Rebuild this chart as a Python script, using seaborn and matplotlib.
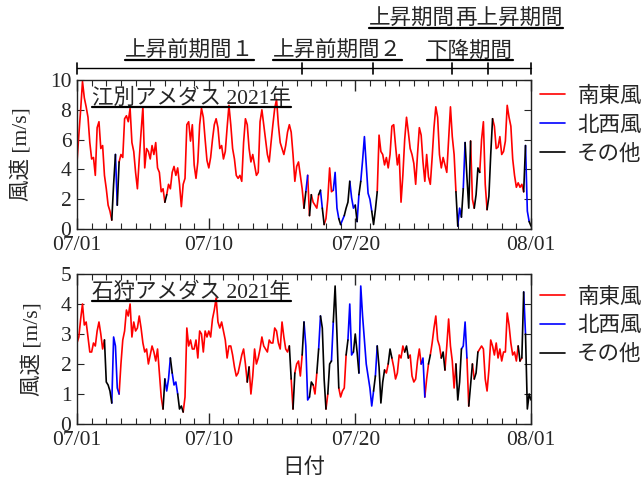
import numpy as np
import pandas as pd
import matplotlib
matplotlib.use("Agg")
import matplotlib.pyplot as plt
import matplotlib.dates as mdates
from matplotlib.lines import Line2D
import seaborn as sns

# ---------------- data (3-hourly, 2021-07-01 00:00 .. 2021-08-01 00:00) ----------------
start_time = "2021-07-01 00:00"
step_hours = 3

ebetsu_speed = [
    4.5, 6.3, 8.0, 9.9, 8.8, 8.2, 7.5, 5.8,
    4.7, 4.8, 3.6, 6.8, 7.2, 5.4, 5.6, 3.6,
    2.7, 1.6, 1.2, 0.6, 3.0, 5.0, 1.6, 4.5,
    5.0, 4.8, 7.4, 7.6, 7.2, 8.1, 5.8, 5.2,
    3.8, 2.7, 4.7, 6.5, 8.2, 4.1, 5.4, 5.2,
    4.7, 5.6, 5.0, 5.8, 4.1, 3.8, 2.5, 2.7,
    1.8, 2.3, 3.0, 2.7, 3.8, 4.2, 3.6, 4.1,
    3.0, 1.5, 3.0, 3.4, 7.0, 7.2, 5.9, 7.0,
    4.3, 3.4, 4.5, 7.0, 8.1, 7.5, 6.0, 4.6,
    4.1, 4.8, 6.0, 7.0, 7.4, 6.8, 5.4, 5.6,
    4.7, 5.2, 6.8, 8.3, 7.0, 5.4, 4.7, 3.6,
    3.4, 3.6, 3.2, 5.8, 7.4, 7.0, 5.4, 4.5,
    5.0, 4.3, 3.6, 3.8, 7.2, 8.0, 7.0, 6.0,
    5.0, 4.5, 5.8, 7.0, 8.1, 8.7, 7.0, 5.8,
    5.4, 5.0, 5.6, 6.5, 7.0, 6.5, 5.0, 3.2,
    4.2, 4.5, 3.6, 2.7, 1.4, 2.5, 3.6, 0.9,
    2.3, 1.8, 1.6, 1.4, 2.3, 2.6, 1.4, 0.3,
    0.7, 2.0, 4.1, 2.5, 2.6, 3.8, 1.4, 0.7,
    0.3, 0.6, 0.9, 1.4, 1.8, 3.2, 2.1, 1.4,
    1.6, 0.5, 2.3, 3.2, 4.6, 6.2, 4.3, 2.4,
    2.0, 1.2, 0.3, 1.3, 2.5, 6.3, 5.2, 5.0,
    4.3, 4.8, 4.1, 5.0, 6.9, 7.0, 5.6, 4.3,
    5.0, 1.8, 3.6, 6.0, 7.5, 6.5, 5.4, 5.0,
    4.4, 3.0, 5.0, 6.8, 6.3, 4.5, 3.2, 5.0,
    3.5, 3.0, 4.8, 6.8, 8.2, 7.5, 5.0, 4.1,
    4.8, 4.3, 3.8, 6.0, 8.2, 6.2, 5.0, 2.5,
    0.2, 1.4, 0.8, 2.7, 5.8, 3.5, 1.4, 5.9,
    2.0, 1.4, 2.3, 4.1, 3.8, 6.0, 7.2, 3.0,
    1.3, 2.2, 5.0, 7.4, 6.9, 5.4, 5.5, 6.2,
    5.0, 5.2, 5.9, 8.3, 7.5, 6.9, 4.7, 3.6,
    2.8, 3.1, 2.8, 3.0, 2.5, 5.6, 1.2, 0.5,
    0.2,
]
# S = 南東風, N = 北西風, O = その他 (direction at the start of each step)
ebetsu_dir = (
    "SSSSSSSS" "SSSSSSSS" "SSSOONOS" "SSSSSSSS" "SSSSSSSS" "SSSSSSSS"
    "OSSSSSSS" "SSSSSSSS" "SSSSSSSS" "SSSSSSSS" "SSSSSSSS" "SSSSSSSS"
    "SSSSSSSS" "SSSSSSSS" "SSSSSSSS" "SSSSONSO" "SSSSONOS" "SSSSNNNO"
    "NNOOONNN" "ONONNNNN" "NOOOSSSS" "SSSSSSSS" "SSSSSSSS" "SSSSSSSS"
    "SSSSSSSS" "SSSSSSSO" "NNONOOOS" "SOOOSSSS" "OOOSSSSS" "SSSSSSSS"
    "SSSSONNO" "O"
)

ishikari_speed = [
    2.7, 2.9, 3.5, 4.0, 3.3, 3.4, 2.9, 2.4,
    2.4, 2.7, 2.6, 3.1, 3.4, 3.0, 2.5, 2.8,
    1.4, 1.3, 1.1, 0.7, 2.9, 2.6, 1.2, 1.0,
    2.0, 2.8, 3.1, 3.8, 3.6, 4.0, 2.9, 3.4,
    3.1, 3.2, 3.6, 3.2, 2.7, 2.4, 2.5, 2.0,
    2.3, 2.6, 2.4, 2.1, 2.5, 1.7, 0.9, 0.5,
    1.5, 1.1, 1.5, 2.2, 1.7, 1.3, 1.4, 1.0,
    0.5, 0.6, 0.4, 0.9, 3.2, 2.6, 2.8, 2.5,
    2.5, 2.8, 2.2, 3.1, 3.0, 2.4, 3.1, 2.9,
    3.1, 2.9, 3.5, 3.8, 4.2, 3.4, 3.2, 3.4,
    3.1, 2.8, 2.2, 2.6, 2.6, 2.3, 1.9, 1.6,
    1.7, 2.0, 2.3, 2.5, 2.0, 1.4, 1.9, 1.0,
    1.6, 2.5, 2.0, 2.2, 2.5, 2.9, 2.6, 2.5,
    2.4, 2.8, 2.7, 2.7, 3.2, 3.1, 2.7, 2.5,
    3.4, 2.9, 2.5, 2.4, 2.6, 1.5, 0.5, 1.7,
    2.0, 2.1, 1.6, 2.3, 3.4, 2.6, 0.8, 0.9,
    1.4, 1.3, 1.0, 1.7, 2.5, 3.6, 3.2, 1.5,
    0.5, 1.0, 2.0, 2.1, 3.4, 4.6, 3.0, 1.2,
    0.9, 1.1, 1.2, 2.3, 2.8, 4.0, 2.3, 2.4,
    3.0, 2.4, 1.7, 4.6, 3.6, 2.8, 2.0, 1.6,
    1.2, 0.6, 1.1, 1.6, 2.6, 1.9, 0.7, 1.4,
    1.8, 1.7, 2.0, 2.5, 2.2, 1.9, 1.5, 1.7,
    2.3, 2.2, 2.6, 2.4, 2.6, 2.2, 2.3, 1.6,
    1.4, 1.5, 2.1, 2.5, 2.0, 2.2, 0.9, 1.5,
    2.0, 2.3, 2.7, 3.2, 3.6, 2.8, 2.6, 2.2,
    2.4, 1.8, 2.6, 3.5, 2.6, 2.1, 1.2, 2.0,
    0.8, 1.4, 2.5, 2.6, 3.4, 2.2, 0.6, 1.3,
    2.0, 1.5, 1.7, 2.4, 2.5, 2.6, 2.5, 1.5,
    1.1, 1.8, 2.8, 2.6, 2.3, 2.7, 2.2, 2.5,
    2.1, 2.4, 2.4, 3.7, 3.3, 2.7, 2.3, 2.4,
    2.1, 2.6, 2.1, 2.2, 4.4, 3.0, 0.5, 1.0,
    0.8,
]
ishikari_dir = (
    "SSSSSSSS" "SSSSSSSO" "OOONNNNS" "SSSSSSSS" "SSSSSSSS" "SSSSSSSO"
    "NNNONNNO" "OOSSSSSS" "SSSSSSSS" "SSSSSSSS" "SSSSSSSS" "SSSSSOSS"
    "SSSSSSSS" "SSSSSSSS" "SSSSOSOS" "SSSONNNO" "OSSONOOO" "SOONOOOS"
    "SSSONNNO" "OONNNNNN" "NNONOOOO" "SSOOSSSS" "SSSOOSSS" "SSSSNNSS"
    "OSSSSSSO" "OSSSSSSO" "OONNNSOO" "SOOSSSSS" "SSSSSSSS" "SSSSSSSS"
    "SOSONOOO" "O"
)

dir_names = {"S": "南東風", "N": "北西風", "O": "その他"}
dir_order = ["南東風", "北西風", "その他"]
dir_colors = {"南東風": "#ff0000", "北西風": "#0000ff", "その他": "#000000"}

station_titles = ["江別アメダス 2021年", "石狩アメダス 2021年"]
y_limits = [10, 5]
y_steps = [2, 1]

period_bounds = ["2021-07-01 00:00", "2021-07-16 09:00", "2021-07-21 05:00",
                 "2021-07-26 14:00", "2021-07-29 01:00", "2021-08-01 00:00"]
period_names = ["上昇前期間１", "上昇前期間２", "上昇期間", "下降期間", "再上昇期間"]
period_rows = [0, 0, 1, 0, 1]

x_major_labels = ["2021-07-01", "2021-07-10", "2021-07-20", "2021-08-01"]

# ---------------- styling ----------------
FS = 15.5
sns.set_style("ticks")
plt.rcParams["font.family"] = ["Liberation Serif", "Noto Sans CJK JP"]
plt.rcParams["font.size"] = FS
plt.rcParams["axes.linewidth"] = 1.0
plt.rcParams["xtick.direction"] = "in"
plt.rcParams["ytick.direction"] = "in"


def build_frame(speed, dirs):
    t = pd.date_range(start_time, periods=len(speed), freq=f"{step_hours}h")
    rows = []
    n = len(speed)
    i = 0
    run = 0
    while i < n - 1:
        c = dirs[i]
        j = i
        while j + 1 < n - 1 and dirs[j + 1] == c:
            j += 1
        for k in range(i, j + 2):
            rows.append((t[k], speed[k], dir_names[c], run))
        run += 1
        i = j + 1
    return pd.DataFrame(rows, columns=["time", "speed", "dir", "run"])


fig = plt.figure(figsize=(6.43, 4.86), dpi=100)
W, H = 643, 486
ax_top = fig.add_axes([77 / W, 1 - 229 / H, 454 / W, 149 / H])
ax_bot = fig.add_axes([77 / W, 1 - 424 / H, 454 / W, 150 / H])
axes = [ax_top, ax_bot]

x0 = pd.Timestamp("2021-07-01")
x1 = pd.Timestamp("2021-08-01")

title_y = [0.806, 0.808]
legend_y = [1.013, 0.967]

for ax, speed, dirs, title, ylim, ystep, ty, ly in zip(
        axes, [ebetsu_speed, ishikari_speed], [ebetsu_dir, ishikari_dir],
        station_titles, y_limits, y_steps, title_y, legend_y):
    df = build_frame(speed, dirs)
    sns.lineplot(data=df, x="time", y="speed", hue="dir", units="run",
                 estimator=None, sort=False, palette=dir_colors,
                 hue_order=dir_order, legend=False, linewidth=1.2, ax=ax)
    ax.set_xlim(x0, x1)
    ax.set_ylim(0, ylim)
    ax.set_yticks(np.arange(0, ylim + 0.001, ystep))
    ax.set_xticks([pd.Timestamp(d) for d in x_major_labels])
    ax.xaxis.set_major_formatter(mdates.DateFormatter("%m/%d"))
    ax.xaxis.set_minor_locator(mdates.DayLocator())
    ax.tick_params(axis="both", which="both", direction="in",
                   top=True, right=True, labelsize=FS, pad=4)
    ax.tick_params(axis="x", which="both", pad=5)
    ax.tick_params(axis="x", which="major", length=8, width=1)
    ax.tick_params(axis="x", which="minor", length=4, width=0.8)
    ax.tick_params(axis="y", which="major", length=5, width=0.8)
    ax.set_ylabel("風速 [m/s]", fontsize=FS, labelpad=13)
    ax.set_xlabel("")
    for s in ax.spines.values():
        s.set_color("#222222")
    ax.text(0.033, ty, title, transform=ax.transAxes, fontsize=FS,
            ha="left", va="bottom", gid="title")
    handles = [Line2D([], [], color=dir_colors[d], lw=1.2) for d in dir_order]
    ax.legend(handles, dir_order, loc="upper left", bbox_to_anchor=(1.0, ly),
              frameon=False, fontsize=FS, handlelength=1.2, handletextpad=0.55,
              labelspacing=0.4, borderaxespad=0.0)

ax_bot.set_xlabel("日付", fontsize=FS, labelpad=6)

# period bracket above the top panel
trans = ax_top.get_xaxis_transform()
bx = [mdates.date2num(pd.Timestamp(b)) for b in period_bounds]
ax_top.plot([bx[0], bx[-1]], [1.0805, 1.0805], color="black", lw=1.0,
            transform=trans, clip_on=False)
for b in bx:
    ax_top.plot([b, b], [1.043, 1.114], color="black", lw=1.2,
                transform=trans, clip_on=False)

row_y = [1.122, 1.337]
label_texts = []
for name, row, a, b in zip(period_names, period_rows, bx[:-1], bx[1:]):
    xc = (a + b) / 2
    txt = ax_top.text(xc, row_y[row], name, transform=trans, ha="center",
                      va="bottom", fontsize=FS)
    label_texts.append(txt)

fig.canvas.draw()
renderer = fig.canvas.get_renderer()
inv = fig.transFigure.inverted()


def underline(txt):
    bb = txt.get_window_extent(renderer)
    (fx0, fy0) = inv.transform((bb.x0, bb.y0))
    (fx1, _) = inv.transform((bb.x1, bb.y0))
    fig.add_artist(Line2D([fx0, fx1], [fy0 + 0.004, fy0 + 0.004],
                          color="black", lw=1.6, transform=fig.transFigure))


for t in label_texts:
    underline(t)
for ax in axes:
    for t in ax.texts:
        if t.get_gid() == "title":
            underline(t)

fig.savefig("out.png", dpi=100)
